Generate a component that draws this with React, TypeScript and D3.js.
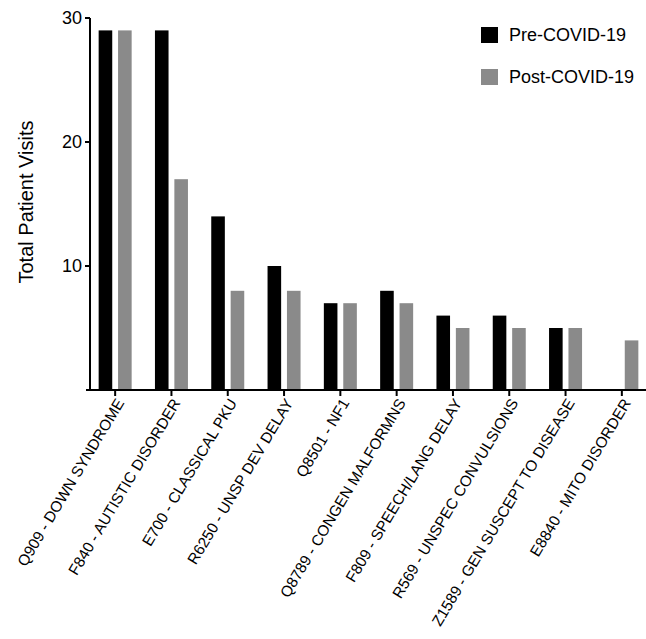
import React from "react";
import * as d3 from "d3";

const categories = [
  "Q909 - DOWN SYNDROME",
  "F840 - AUTISTIC DISORDER",
  "E700 - CLASSICAL PKU",
  "R6250 - UNSP DEV DELAY",
  "Q8501 - NF1",
  "Q8789 - CONGEN MALFORMNS",
  "F809 - SPEECH/LANG DELAY",
  "R569 - UNSPEC CONVULSIONS",
  "Z1589 - GEN SUSCEPT TO DISEASE",
  "E8840 - MITO DISORDER",
];
const preCovid = [29, 29, 14, 10, 7, 8, 6, 6, 5, 0];
const postCovid = [29, 17, 8, 8, 7, 7, 5, 5, 5, 4];
const seriesNames = ["Pre-COVID-19", "Post-COVID-19"];
const seriesColors = ["#000000", "#8a8a8a"];
const yTicks = [10, 20, 30];

export default function App() {
  const W = 646;
  const H = 639;
  const axisX = 90;
  const y0 = 390;
  const yTop = 18;
  const font = "Arial, 'Liberation Sans', Helvetica, sans-serif";

  const y = d3.scaleLinear().domain([0, 30]).range([y0, yTop]);
  const x = d3
    .scaleBand<string>()
    .domain(categories)
    .range([87, 87 + 56.3 * categories.length])
    .paddingInner(0)
    .paddingOuter(0);
  const sub = d3
    .scaleBand<string>()
    .domain(seriesNames)
    .range([0, x.bandwidth()])
    .paddingInner(0.3)
    .paddingOuter(0.6);

  const series = [preCovid, postCovid];

  return (
    <svg
      width={W}
      height={H}
      style={{ position: "absolute", left: 0, top: 0, background: "#fff" }}
    >
      <rect width={W} height={H} fill="#fff" />
      {/* bars */}
      {categories.map((c, i) => (
        <g key={c} transform={`translate(${x(c)},0)`}>
          {series.map((vals, s) =>
            vals[i] > 0 ? (
              <rect
                key={s}
                x={sub(seriesNames[s])}
                y={y(vals[i])}
                width={sub.bandwidth()}
                height={y0 - y(vals[i])}
                fill={seriesColors[s]}
              />
            ) : null
          )}
        </g>
      ))}
      {/* y axis */}
      <line x1={axisX} x2={axisX} y1={yTop} y2={y0 + 1} stroke="#000" strokeWidth={2} />
      {yTicks.map((t) => (
        <g key={t}>
          <line x1={axisX - 5} x2={axisX} y1={y(t)} y2={y(t)} stroke="#000" strokeWidth={2} />
          <text
            x={axisX - 8}
            y={y(t)}
            dy="0.35em"
            textAnchor="end"
            fontFamily={font}
            fontSize={18}
            fill="#000"
          >
            {t}
          </text>
        </g>
      ))}
      <text
        transform={`translate(33,${(117 + 287) / 2}) rotate(-90)`}
        textAnchor="middle"
        fontFamily={font}
        fontSize={20}
        fill="#000"
      >
        Total Patient Visits
      </text>
      {/* x axis */}
      <line x1={86} x2={W} y1={y0} y2={y0} stroke="#000" strokeWidth={2} />
      {categories.map((c) => {
        const cx = (x(c) as number) + x.bandwidth() / 2;
        return (
          <g key={c}>
            <line x1={cx} x2={cx} y1={y0} y2={y0 + 6} stroke="#000" strokeWidth={2} />
            <text
              transform={`translate(${cx + 5},${y0 + 10}) rotate(-59)`}
              textAnchor="end"
              dy="0.35em"
              fontFamily={font}
              fontSize={15.3}
              fill="#000"
            >
              {c}
            </text>
          </g>
        );
      })}
      {/* legend */}
      {seriesNames.map((n, i) => (
        <g key={n} transform={`translate(481,${27 + i * 42})`}>
          <rect width={17} height={16} fill={seriesColors[i]} />
          <text x={28} y={8} dy="0.35em" fontFamily={font} fontSize={18} fill="#000">
            {n}
          </text>
        </g>
      ))}
    </svg>
  );
}
